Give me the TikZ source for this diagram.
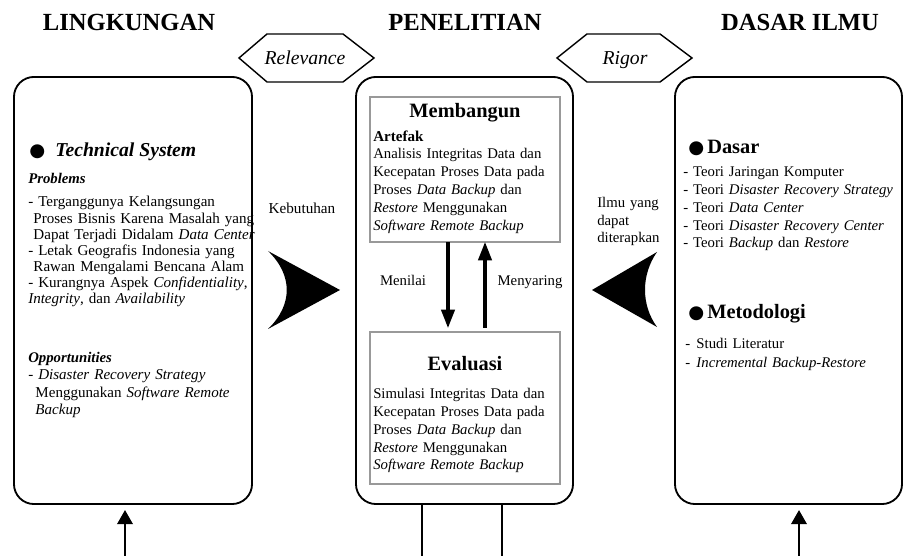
\documentclass[tikz,border=0pt]{standalone}
\usepackage{fontspec}
\setmainfont{Liberation Serif}
\newfontfamily\symfont{DejaVu Sans}
\usetikzlibrary{arrows.meta}
\newcommand{\fs}[2]{\fontsize{#1}{#2}\selectfont}
\newcommand{\bigdot}[1]{\makebox[#1][l]{\symfont\fs{13}{14}●}}

\begin{document}
\begin{tikzpicture}[x=0.025cm, y=-0.025cm,
  panel/.style={draw, rounded corners=0.5cm, line width=1.3pt, minimum width=#1, minimum height=10.675cm, inner sep=0, outer sep=0},
  inbox/.style={draw=gray!80, line width=1pt, minimum width=4.75cm, inner sep=0, outer sep=0},
  txt/.style={inner sep=0, align=left, anchor=base west},
  head/.style={inner sep=0, anchor=base, font=\fs{17.5}{20}\bfseries},
  hexa/.style={draw, fill=white, line width=1pt},
  fat/.style={line width=2.2pt, -{Triangle[length=13pt,width=9.5pt]}},
  inarr/.style={line width=1.5pt, -{Triangle[length=10pt,width=11pt]}, shorten >=0.15cm}]
\useasboundingbox (0,0) rectangle (904,556);

\node[head] (tl) at (129,31) {LINGKUNGAN};
\node[head] (tp) at (465,31) {PENELITIAN};
\node[head] (td) at (800,31) {DASAR ILMU};

\node[panel=5.95cm] (lk) at (133,290.5) {};
\node[panel=5.425cm] (pn) at (464.5,290.5) {};
\node[panel=5.675cm] (dl) at (788.5,290.5) {};

\draw[hexa] (239,58) -- (267,34) -- (343,34) -- (374,58) -- (343,82) -- (267,82) -- cycle;
\node[inner sep=0, anchor=base, font=\fs{14}{16}\itshape] (rel) at (305,65) {Relevance};
\draw[hexa] (557,58) -- (587,34) -- (660,34) -- (692,58) -- (660,82) -- (587,82) -- cycle;
\node[inner sep=0, anchor=base, font=\fs{14}{16}\itshape] (rig) at (625,65) {Rigor};

\node[txt, font=\fs{14}{16}\bfseries\itshape] (ts) at (29,157) {\bigdot{0.65cm}Technical System};
\node[txt, font=\fs{10.5}{12}\bfseries\itshape] (prob) at (28,184) {Problems};
\node[txt, text width=6.5cm, font=\fs{10.7}{11.4}] (plist) at (28,207) {- Terganggunya Kelangsungan\\
\hspace*{0.13cm}Proses Bisnis Karena Masalah yang\\
\hspace*{0.13cm}Dapat Terjadi Didalam \textit{Data Center}\\
- Letak Geografis Indonesia yang\\
\hspace*{0.13cm}Rawan Mengalami Bencana Alam\\
- Kurangnya Aspek \textit{Confidentiality},\\
\textit{Integrity}, dan \textit{Availability}};
\node[txt, font=\fs{10.5}{12}\bfseries\itshape] (opp) at (28,363) {Opportunities};
\node[txt, text width=6.5cm, font=\fs{10.7}{12.4}] (olist) at (28,380) {- \textit{Disaster Recovery Strategy}\\
\hspace*{0.18cm}Menggunakan \textit{Software Remote}\\
\hspace*{0.18cm}\textit{Backup}};

\node[inbox, minimum height=3.625cm] (mb) at (465,169.5) {};
\node[inbox, minimum height=3.8cm] (ev) at (465,408) {};
\node[inner sep=0, anchor=base, font=\fs{14.5}{16}\bfseries] (mbt) at (465,118) {Membangun};
\node[txt, font=\fs{10.7}{12}\bfseries] (art) at (373,142) {Artefak};
\node[txt, text width=5cm, font=\fs{10.5}{12.8}] (artx) at (373,159) {Analisis Integritas Data dan\\
Kecepatan Proses Data pada\\
Proses \textit{Data Backup} dan\\
\textit{Restore} Menggunakan\\
\textit{Software Remote Backup}};
\node[inner sep=0, anchor=base, font=\fs{14.5}{16}\bfseries] (evt) at (465,371) {Evaluasi};
\node[txt, text width=5cm, font=\fs{10.5}{12.6}] (evx) at (373,399) {Simulasi Integritas Data dan\\
Kecepatan Proses Data pada\\
Proses \textit{Data Backup} dan\\
\textit{Restore} Menggunakan\\
\textit{Software Remote Backup}};

\draw[fat] ([xshift=-0.425cm]mb.south) -- ([xshift=-0.425cm, yshift=0.1cm]ev.north);
\draw[fat] ([xshift=0.5cm, yshift=0.1cm]ev.north) -- ([xshift=0.5cm]mb.south);
\node[inner sep=0, anchor=base, font=\fs{10.5}{12}] (nil) at (403,286) {Menilai};
\node[inner sep=0, anchor=base, font=\fs{10.5}{12}] (nyr) at (530,286) {Menyaring};

\node[txt, font=\fs{14.5}{16}\bfseries] (dsr) at (688,154) {\bigdot{0.475cm}Dasar};
\node[txt, text width=6cm, font=\fs{10.5}{12.6}] (dlist) at (683,177) {- Teori Jaringan Komputer\\
- Teori \textit{Disaster Recovery Strategy}\\
- Teori \textit{Data Center}\\
- Teori \textit{Disaster Recovery Center}\\
- Teori \textit{Backup} dan \textit{Restore}};
\node[txt, font=\fs{14.5}{16}\bfseries] (met) at (688,319) {\bigdot{0.475cm}Metodologi};
\node[txt, text width=6cm, font=\fs{10.5}{13.5}] (mlist) at (685,349) {\makebox[0.28cm][l]{-}Studi Literatur\\
\makebox[0.28cm][l]{-}\textit{Incremental Backup-Restore}};

\node[inner sep=0, anchor=base, font=\fs{10.8}{12}] (keb) at (302,214) {Kebutuhan};
\fill (268,251) -- (340,290) -- (268,329) .. controls (293,305) and (293,275) .. (268,251) -- cycle;
\node[txt, text width=2cm, font=\fs{10.5}{12.1}] (ilmu) at (597,208) {Ilmu yang\\dapat\\diterapkan};
\fill (657,252) -- (592,290) -- (657,327) .. controls (641,305) and (641,275) .. (657,252) -- cycle;

\coordinate (lkb) at (125,556);
\coordinate (dlb) at (799,556);
\coordinate (pnl) at (422,556);
\coordinate (pnr) at (502,556);
\draw[inarr] (lkb) -- (lkb |- lk.south);
\draw[inarr] (dlb) -- (dlb |- dl.south);
\draw[line width=1.3pt] (pnl |- pn.south) -- (pnl);
\draw[line width=1.3pt] (pnr |- pn.south) -- (pnr);
\end{tikzpicture}
\end{document}
